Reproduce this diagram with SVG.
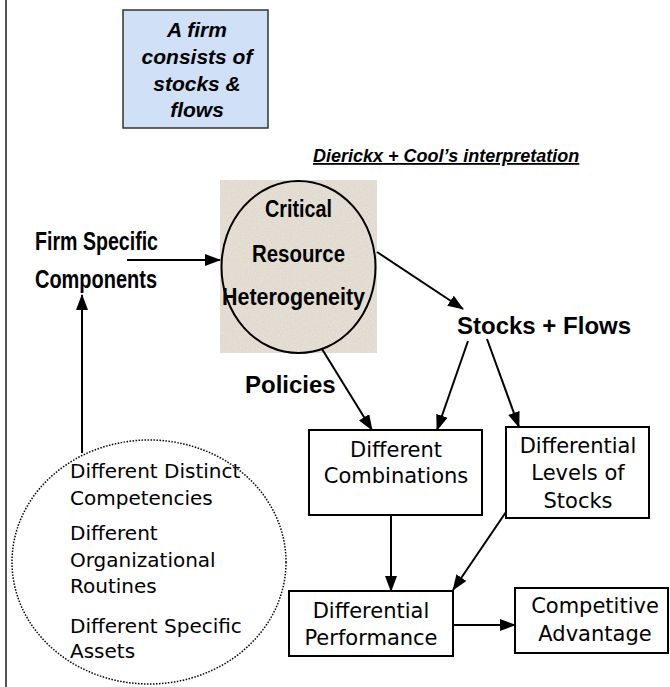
<svg xmlns="http://www.w3.org/2000/svg" width="670" height="687" viewBox="0 0 670 687">
<defs>
<marker id="ah" markerWidth="16" markerHeight="12" refX="15" refY="6" orient="auto" markerUnits="userSpaceOnUse">
<path d="M0,0 L16,6 L0,12 z" fill="#000"/>
</marker>
<filter id="tex" x="0" y="0" width="100%" height="100%">
<feTurbulence type="fractalNoise" baseFrequency="0.6" numOctaves="2" seed="3" result="n"/>
<feColorMatrix in="n" type="matrix" values="0 0 0 0 0.86  0 0 0 0 0.83  0 0 0 0 0.78  0 0 0 -1.2 1.1" result="c"/>
<feComposite in="c" in2="SourceGraphic" operator="in"/>
</filter>
</defs>
<style>
.bold{font-family:"Liberation Sans",Arial,sans-serif;font-weight:bold;fill:#000}
.reg{font-family:"DejaVu Sans",sans-serif;fill:#000}
.box{fill:#fff;stroke:#000;stroke-width:2}
.conn line{stroke:#000;stroke-width:2;marker-end:url(#ah)}
</style>
<rect width="670" height="687" fill="#fff"/>
<line x1="6" y1="0" x2="6" y2="687" stroke="#555" stroke-width="2"/>

<g id="firm-box">
<rect x="123" y="10" width="145" height="118" fill="#cfe0f7" stroke="#333" stroke-width="1.5"/>
<g class="bold" font-style="italic" font-size="21" text-anchor="middle">
<text x="197" y="37">A firm</text>
<text x="197" y="64">consists of</text>
<text x="197" y="91">stocks &amp;</text>
<text x="197" y="117">flows</text>
</g>
</g>

<g id="title">
<text class="bold" x="313" y="162" font-size="18" font-style="italic" text-decoration="underline">Dierickx + Cool’s interpretation</text>
</g>

<g id="critical">
<rect x="220" y="180" width="157" height="173" fill="#ddd6ca"/>
<rect x="220" y="180" width="157" height="173" fill="#ddd6ca" filter="url(#tex)" opacity="0.6"/>
<ellipse cx="298.5" cy="267" rx="77" ry="86" fill="none" stroke="#000" stroke-width="2"/>
<g class="bold" font-size="23">
<text x="265" y="217" textLength="67" lengthAdjust="spacingAndGlyphs">Critical</text>
<text x="252" y="262" textLength="93" lengthAdjust="spacingAndGlyphs">Resource</text>
<text x="222" y="305" textLength="143" lengthAdjust="spacingAndGlyphs">Heterogeneity</text>
</g>
</g>

<g id="firm-specific">
<text class="bold" x="35" y="250" font-size="25" textLength="123" lengthAdjust="spacingAndGlyphs">Firm Specific</text>
<text class="bold" x="35" y="288" font-size="25" textLength="122" lengthAdjust="spacingAndGlyphs">Components</text>
</g>

<g id="stocks-flows">
<text class="bold" x="457" y="334" font-size="24">Stocks + Flows</text>
</g>

<g id="policies">
<text class="bold" x="245" y="393" font-size="24">Policies</text>
</g>

<g id="combinations">
<rect class="box" x="309" y="430" width="173" height="85"/>
<g class="reg" font-size="21" text-anchor="middle">
<text x="396" y="457">Different</text>
<text x="396" y="483">Combinations</text>
</g>
</g>

<g id="levels">
<rect class="box" x="506" y="427" width="143" height="91"/>
<g class="reg" font-size="21" text-anchor="middle">
<text x="578" y="453">Differential</text>
<text x="578" y="480">Levels of</text>
<text x="578" y="508">Stocks</text>
</g>
</g>

<g id="performance">
<rect class="box" x="289" y="591" width="164" height="65"/>
<g class="reg" font-size="21" text-anchor="middle">
<text x="371" y="618">Differential</text>
<text x="371" y="645">Performance</text>
</g>
</g>

<g id="advantage">
<rect class="box" x="515" y="588" width="153" height="65"/>
<g class="reg" font-size="21" text-anchor="middle">
<text x="595" y="613">Competitive</text>
<text x="595" y="641">Advantage</text>
</g>
</g>

<g id="sources">
<ellipse cx="149" cy="562" rx="137" ry="122" fill="none" stroke="#000" stroke-width="1.5" stroke-dasharray="1.5 1.5"/>
<g class="reg" font-size="20">
<text x="70" y="478">Different Distinct</text>
<text x="70" y="505">Competencies</text>
<text x="70" y="540">Different</text>
<text x="70" y="567">Organizational</text>
<text x="70" y="593">Routines</text>
<text x="70" y="633">Different Specific</text>
<text x="70" y="658">Assets</text>
</g>
</g>

<g id="connectors" class="conn">
<line x1="127" y1="260" x2="220" y2="260"/>
<line x1="82" y1="453" x2="82" y2="295"/>
<line x1="377" y1="252" x2="463" y2="309"/>
<line x1="322" y1="349" x2="372" y2="430"/>
<line x1="468" y1="341" x2="437" y2="430"/>
<line x1="487" y1="339" x2="519" y2="427"/>
<line x1="391" y1="515" x2="391" y2="591"/>
<line x1="506" y1="512" x2="453" y2="590"/>
<line x1="453" y1="625" x2="515" y2="625"/>
</g>
</svg>
